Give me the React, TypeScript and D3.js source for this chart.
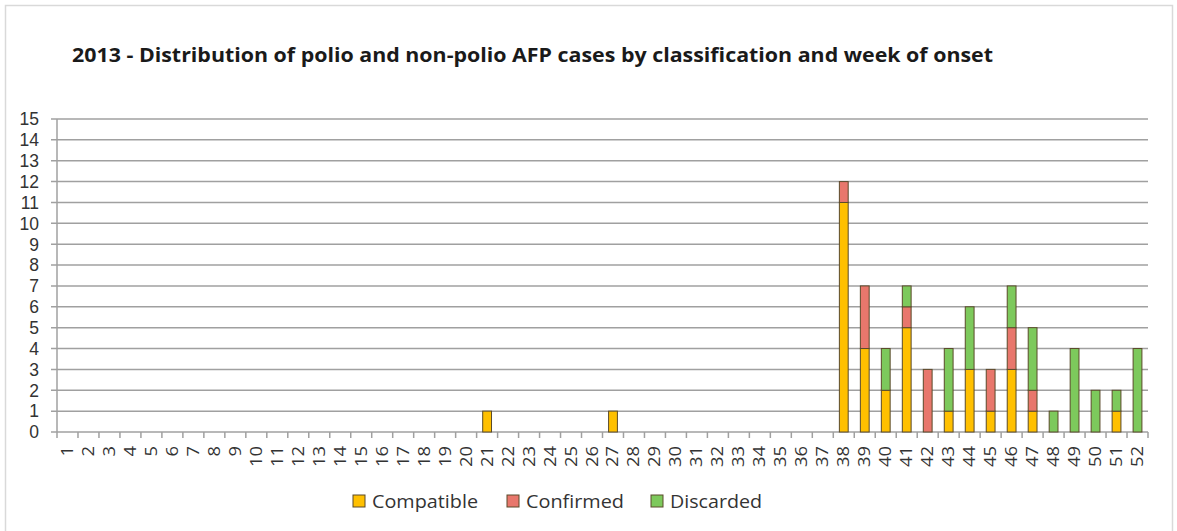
import React from "react";
import * as d3 from "d3";

const title = "2013 - Distribution of polio and non-polio AFP cases by classification and week of onset";
const weeks = d3.range(1, 53).map(String);
const seriesNames = ["Compatible", "Confirmed", "Discarded"];
const seriesColors = ["#FFC000", "#E8776C", "#7DC95C"];
// values per week for each series
const compatibleData: Record<string, number> = { "21": 1, "27": 1, "38": 11, "39": 4, "40": 2, "41": 5, "43": 1, "44": 3, "45": 1, "46": 3, "47": 1, "51": 1 };
const confirmedData: Record<string, number> = { "38": 1, "39": 3, "41": 1, "42": 3, "45": 2, "46": 2, "47": 1 };
const discardedData: Record<string, number> = { "40": 2, "41": 1, "43": 3, "44": 3, "46": 2, "47": 3, "48": 1, "49": 4, "50": 2, "51": 1, "52": 4 };
const yTicks = d3.range(0, 16);

export default function App() {
  const W = 1177, H = 531;
  const left = 57, right = 1148, top = 119, bottom = 432;
  const x = d3.scaleBand().domain(weeks).range([left, right]).paddingInner(0).paddingOuter(0);
  const y = d3.scaleLinear().domain([0, 15]).range([bottom, top]);
  const rows = weeks.map((w) => ({
    week: w,
    Compatible: compatibleData[w] || 0,
    Confirmed: confirmedData[w] || 0,
    Discarded: discardedData[w] || 0,
  }));
  const stack = d3.stack<any>().keys(seriesNames)(rows);
  const bw = x.bandwidth();
  const barW = bw * 0.42;
  const font = "Open Sans, Liberation Sans, sans-serif";
  const legendX = [353, 507, 651];
  const legendW = [106, 98, 92];
  return (
    <svg width={W} height={H} style={{ position: "absolute", left: 0, top: 0 }} fontFamily={font}>
      <rect x={0} y={0} width={W} height={H} fill="#fff" />
      <rect x={5.5} y={5.5} width={1167} height={540} fill="none" stroke="#d9d9d9" strokeWidth={1.5} />
      <text x={72} y={62} fontSize={19.5} fontWeight="bold" fill="#1a1a1a" textLength={921} lengthAdjust="spacingAndGlyphs">{title}</text>
      {yTicks.map((t) => (
        <g key={t}>
          <line x1={left - 6} x2={right} y1={y(t)} y2={y(t)} stroke="#a0a0a0" strokeWidth={1.5} />
          <text x={39} y={y(t) + 6.3} textAnchor="end" fontSize={17.5} fontFamily="Liberation Sans, Arial, sans-serif" fill="#333">{t}</text>
        </g>
      ))}
      <line x1={left} x2={left} y1={top} y2={bottom + 6} stroke="#a0a0a0" strokeWidth={1.5} />
      {weeks.map((w) => (
        <line key={"t" + w} x1={x(w)! + bw} x2={x(w)! + bw} y1={bottom} y2={bottom + 6} stroke="#a0a0a0" strokeWidth={1.5} />
      ))}
      {weeks.map((w) => (
        <text key={"l" + w} transform={`translate(${x(w)! + bw / 2 + 5.5},${bottom + 14}) rotate(-90)`} textAnchor="end" fontSize={15.5} fill="#333" textLength={w.length * 10.5} lengthAdjust="spacingAndGlyphs">{w}</text>
      ))}
      {stack.map((s, si) => (
        <g key={s.key}>
          {s.map((d, i) => d[1] - d[0] > 0 ? (
            <rect key={i} x={x(weeks[i])! + (bw - barW) / 2} y={y(d[1])} width={barW} height={y(d[0]) - y(d[1])} fill={seriesColors[si]} stroke="#5a4a2a" strokeWidth={1} />
          ) : null)}
        </g>
      ))}
      {seriesNames.map((n, i) => (
        <g key={n}>
          <rect x={legendX[i]} y={495} width={12} height={12} fill={seriesColors[i]} stroke="#5a4a2a" strokeWidth={1} />
          <text x={legendX[i] + 19} y={508} fontSize={18.5} fill="#333" textLength={legendW[i]} lengthAdjust="spacingAndGlyphs">{n}</text>
        </g>
      ))}
    </svg>
  );
}
